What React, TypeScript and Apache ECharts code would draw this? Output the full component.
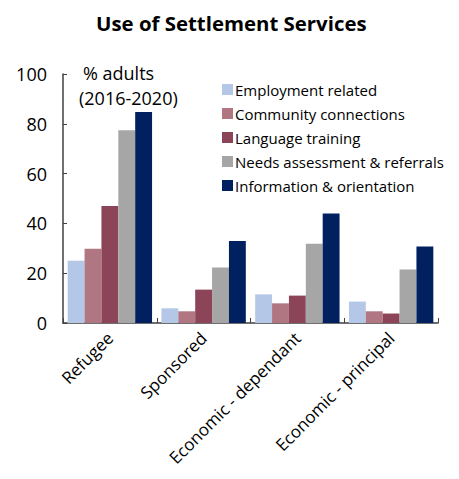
import React, { useEffect, useRef } from "react";
import * as echarts from "echarts";

const categories = ["Refugee", "Sponsored", "Economic - dependant", "Economic - principal"];
const seriesNames = [
  "Employment related",
  "Community connections",
  "Language training",
  "Needs assessment & referrals",
  "Information & orientation",
];
const employment = [25, 5.9, 11.5, 8.6];
const community = [29.8, 4.7, 7.9, 4.7];
const language = [47, 13.4, 11, 3.8];
const needs = [77.4, 22.3, 31.8, 21.5];
const information = [84.7, 32.9, 44, 30.7];
const colors = ["#b4c7e7", "#b07783", "#8c4459", "#a6a6a6", "#002060"];
const yTicks = [0, 20, 40, 60, 80, 100];

const FONT = "Open Sans";

export default function App() {
  const ref = useRef<HTMLDivElement>(null);
  useEffect(() => {
    if (!ref.current) return;
    const chart = echarts.init(ref.current, undefined, { renderer: "svg" });
    const data = [employment, community, language, needs, information];
    chart.setOption({
      animation: false,
      textStyle: { fontFamily: FONT },
      title: {
        text: "Use of Settlement Services",
        left: 83,
        top: 0,
        textStyle: { fontFamily: FONT, fontSize: 20.4, fontWeight: "bold", color: "#000" },
      },
      legend: {
        orient: "vertical",
        left: 209,
        top: 69,
        itemWidth: 11,
        itemHeight: 11,
        itemGap: 9,
        icon: "rect",
        textStyle: { fontFamily: FONT, fontSize: 15, color: "#000", padding: [0, 0, 0, -3] },
        data: seriesNames,
      },
      graphic: [
        {
          type: "text",
          left: 75,
          top: 56,
          style: { text: "% adults", font: `18px "${FONT}"`, fill: "#000" },
        },
        {
          type: "text",
          left: 71,
          top: 81,
          style: { text: "(2016-2020)", font: `18px "${FONT}"`, fill: "#000" },
        },
      ],
      grid: { left: 55, right: 29, top: 66, bottom: 164 },
      xAxis: {
        type: "category",
        data: categories,
        axisLine: { lineStyle: { color: "#404040", width: 1.5 } },
        axisTick: { show: true, inside: true, length: 5, lineStyle: { color: "#404040" } },
        axisLabel: {
          rotate: 45,
          interval: 0,
          margin: 12,
          fontFamily: FONT,
          fontSize: 17,
          color: "#000",
        },
      },
      yAxis: {
        type: "value",
        min: 0,
        max: 100,
        interval: 20,
        splitLine: { show: false },
        axisLine: { show: true, lineStyle: { color: "#404040", width: 1.5 } },
        axisTick: { show: true, inside: true, length: 4, lineStyle: { color: "#404040" } },
        axisLabel: {
          fontFamily: FONT,
          fontSize: 18,
          color: "#000",
          margin: 16,
          formatter: (v: number) => (yTicks.includes(v) ? String(v) : ""),
        },
      },
      series: seriesNames.map((name, i) => ({
        name,
        type: "bar",
        data: data[i],
        barGap: "0%",
        barCategoryGap: "10%",
        itemStyle: { color: colors[i] },
      })),
    });
    return () => chart.dispose();
  }, []);
  return <div ref={ref} style={{ width: 459, height: 479 }} />;
}
